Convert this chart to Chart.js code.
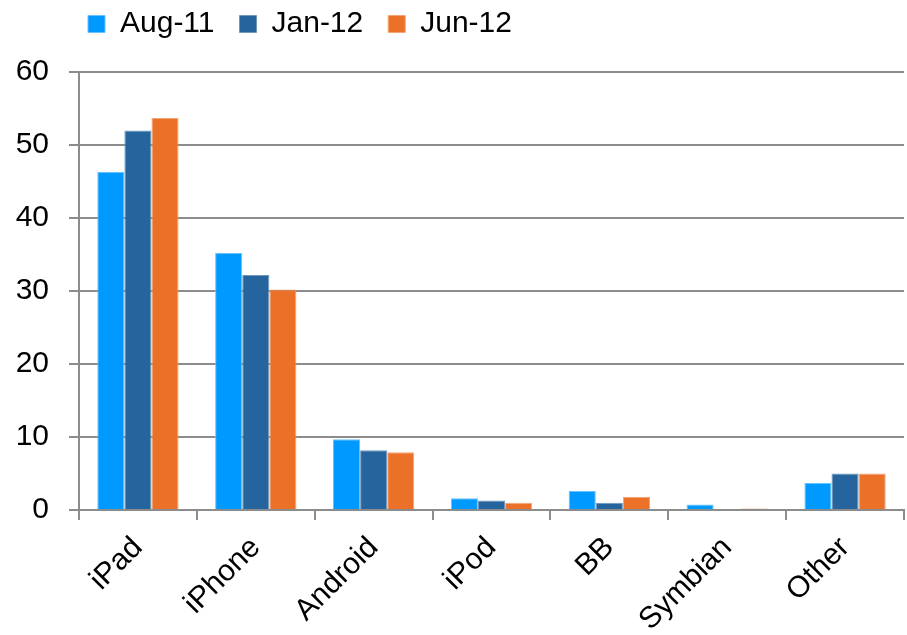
<!DOCTYPE html>
<html>
<head>
<meta charset="utf-8">
<script src="https://cdn.jsdelivr.net/npm/chart.js@4/dist/chart.umd.min.js"></script>
<style>
html,body{margin:0;padding:0;background:#fff;}
#wrap{width:907px;height:635px;position:relative;}
</style>
</head>
<body>
<div id="wrap"><canvas id="c" width="907" height="635"></canvas></div>
<script>
const categories = ["iPad", "iPhone", "Android", "iPod", "BB", "Symbian", "Other"];
const aug11 = [46.3, 35.2, 9.7, 1.6, 2.6, 0.75, 3.7];
const jan12 = [52.0, 32.2, 8.2, 1.3, 1.0, 0, 5.0];
const jun12 = [53.7, 30.2, 7.9, 1.0, 1.8, 0.2, 5.0];
const seriesNames = ["Aug-11", "Jan-12", "Jun-12"];
const yTicks = [0, 10, 20, 30, 40, 50, 60];

const font = "'Liberation Sans', Arial, sans-serif";
const grey = "#8c8c8c";

const legendTweak = {
  id: 'legendTweak',
  beforeLayout(chart) {
    const lg = chart.legend;
    if (lg && !lg._wrappedFit) {
      const orig = lg.fit;
      lg.fit = function () { orig.apply(this, arguments); this.height += 23; };
      lg._wrappedFit = true;
    }
  },
  afterLayout(chart) {
    if (chart.legend) {
      chart.legend.left -= 16;
      chart.legend.right -= 16;
    }
  }
};

new Chart(document.getElementById('c'), {
  type: 'bar',
  data: {
    labels: categories,
    datasets: [
      {label: seriesNames[0], data: aug11, backgroundColor: '#0099ff', borderColor: '#66c2ff', borderWidth: 1},
      {label: seriesNames[1], data: jan12, backgroundColor: '#25649d', borderColor: '#6f97be', borderWidth: 1},
      {label: seriesNames[2], data: jun12, backgroundColor: '#eb7128', borderColor: '#f3a574', borderWidth: 1}
    ]
  },
  plugins: [legendTweak],
  options: {
    responsive: false,
    animation: false,
    layout: {padding: {top: -16, right: 3, left: 15, bottom: -13}},
    datasets: {bar: {categoryPercentage: 0.69, barPercentage: 1.0}},
    plugins: {
      legend: {
        position: 'top',
        align: 'start',
        fullSize: false,
        labels: {
          font: {family: font, size: 30},
          color: '#000',
          boxWidth: 17,
          boxHeight: 17,
          padding: 25
        }
      },
      tooltip: {enabled: false}
    },
    scales: {
      x: {
        offset: true,
        afterFit: (scale) => { scale.paddingLeft = 0; scale.paddingRight = 0; },
        grid: {offset: true, drawOnChartArea: false, drawTicks: true, tickLength: 10, color: grey, lineWidth: 2},
        border: {color: grey, width: 2},
        ticks: {font: {family: font, size: 30}, color: '#000', minRotation: 45, maxRotation: 45, padding: 10}
      },
      y: {
        min: 0, max: 60,
        afterBuildTicks: (axis) => { axis.ticks = yTicks.map(v => ({value: v})); },
        afterFit: (scale) => { scale.width = 64; },
        grid: {color: grey, lineWidth: 2, drawTicks: true, tickLength: 10},
        border: {color: grey, width: 2},
        ticks: {font: {family: font, size: 30}, color: '#000', padding: 20}
      }
    }
  }
});
</script>
</body>
</html>
